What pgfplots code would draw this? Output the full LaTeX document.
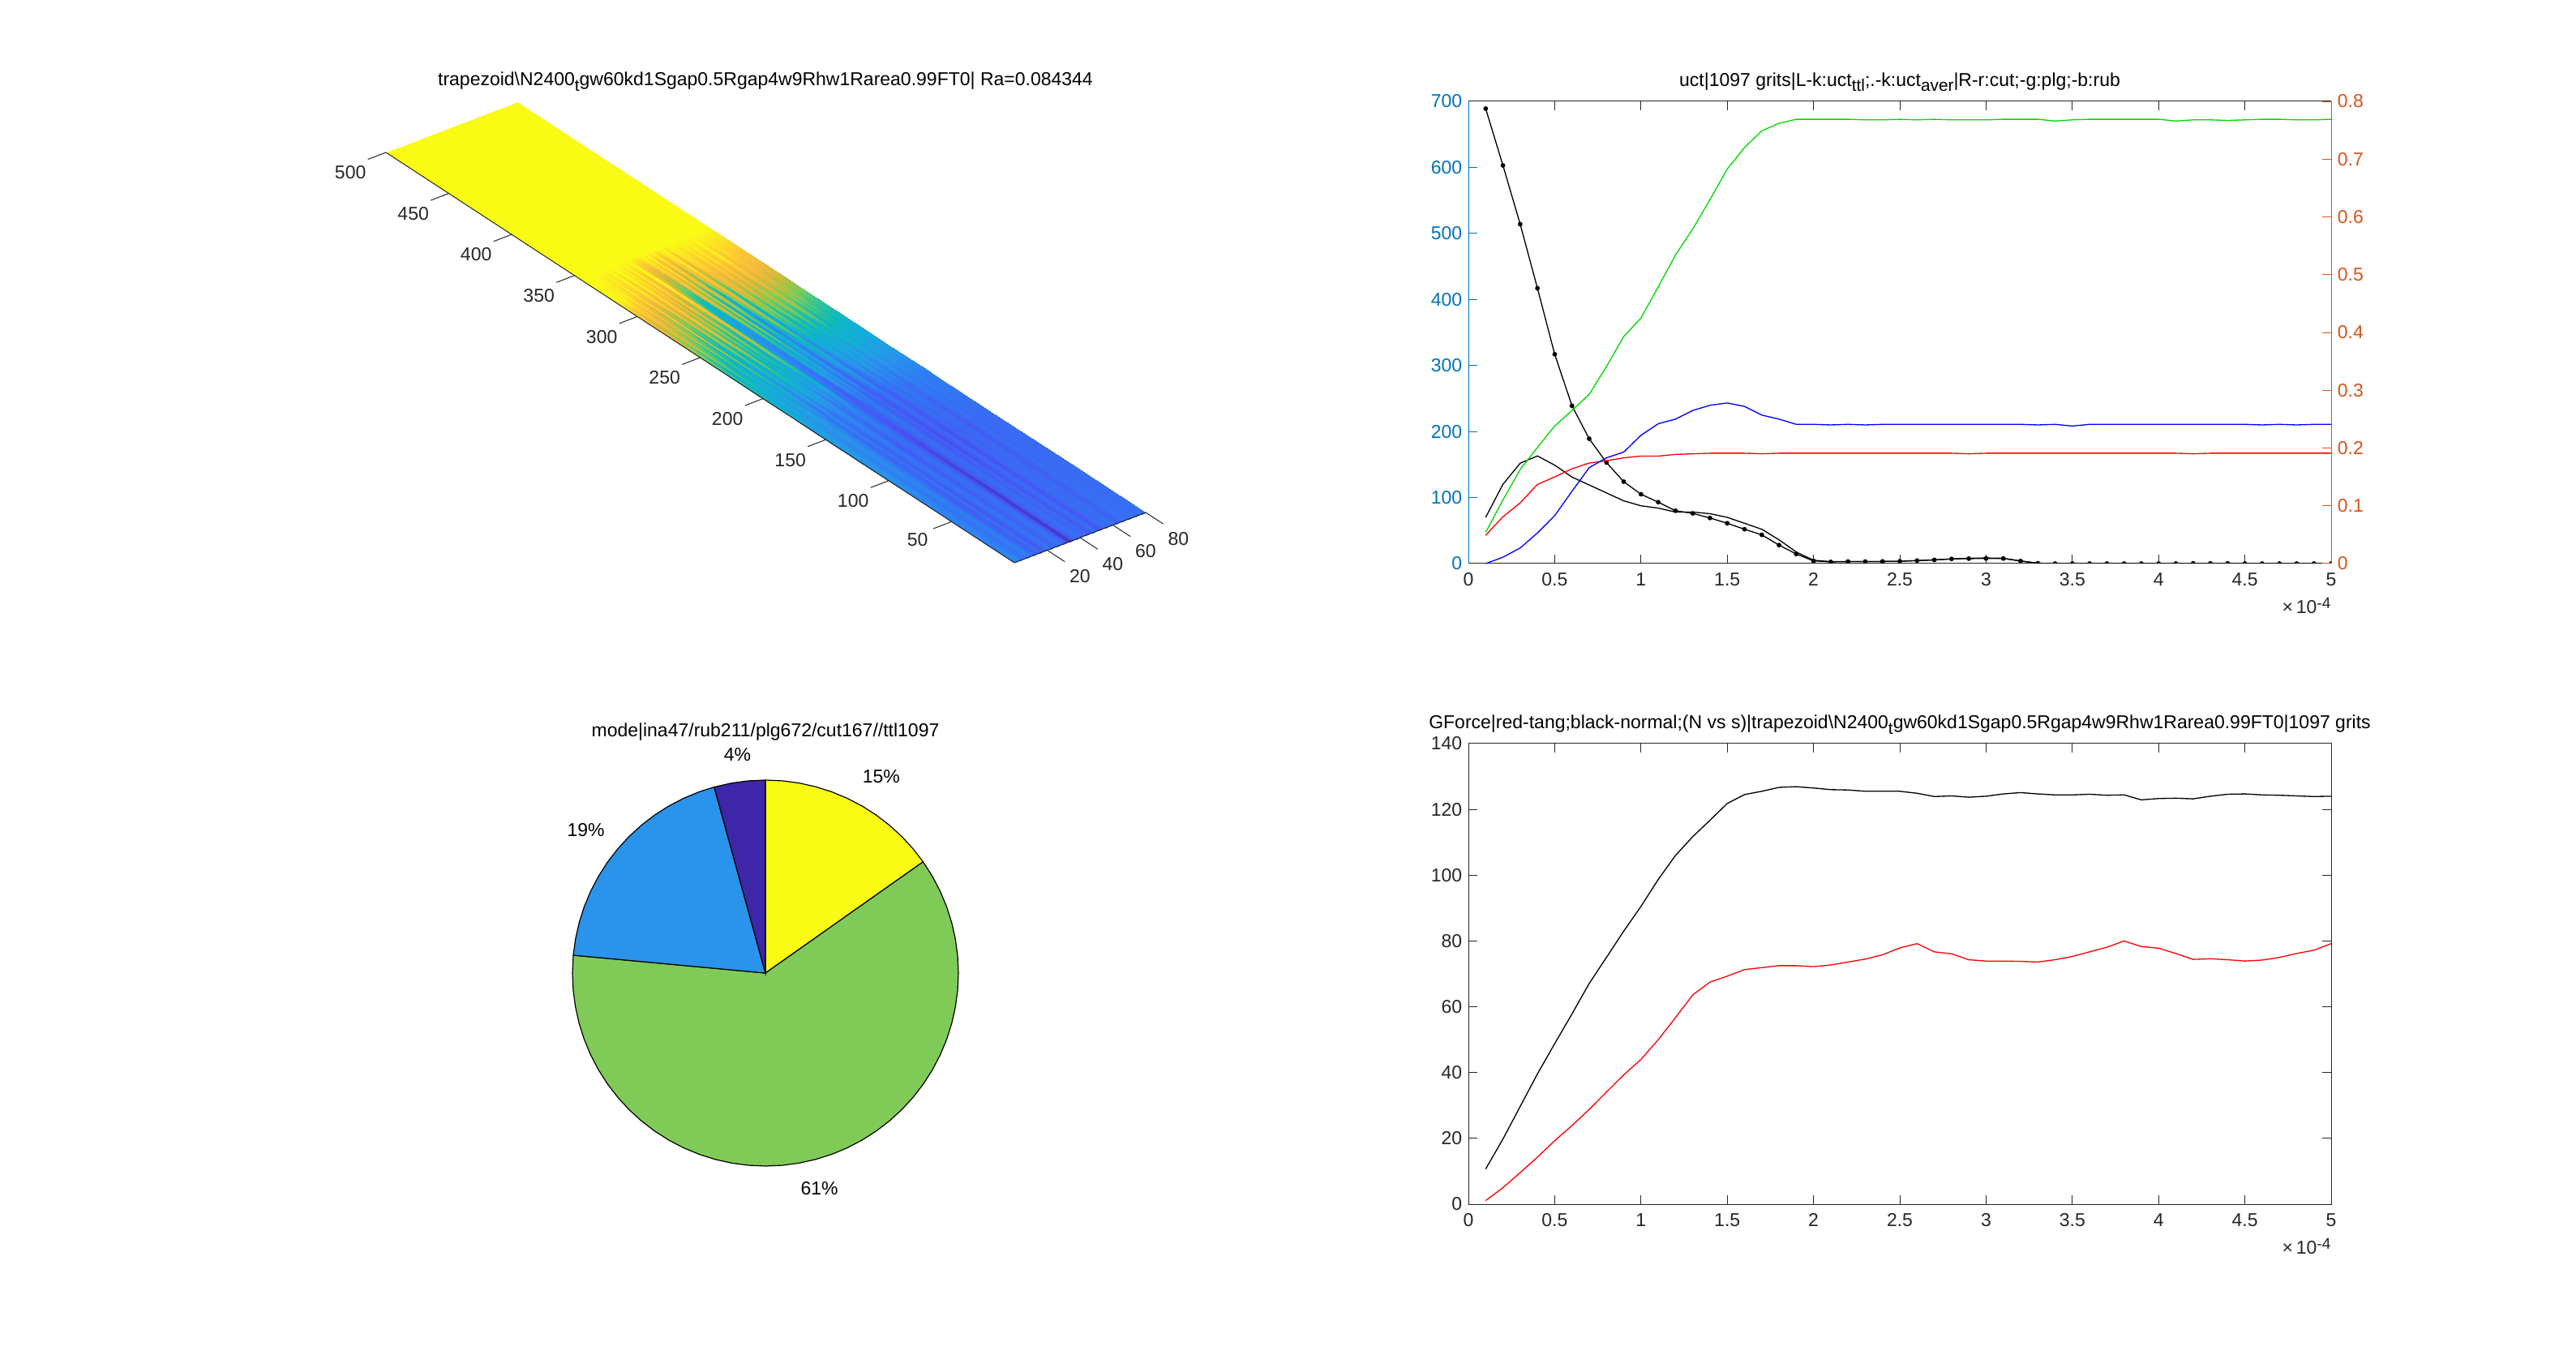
\documentclass[border=0pt]{standalone}
\usepackage{fontspec}
\setmainfont{Liberation Sans}
\usepackage{pgfplots}
\pgfplotsset{compat=1.18}
\definecolor{axisdark}{RGB}{38,38,38}
\definecolor{lblue}{rgb}{0,0.447,0.741}
\definecolor{rorange}{rgb}{0.85,0.325,0.098}
\definecolor{pdark}{RGB}{62,38,168}
\definecolor{pblue}{RGB}{42,147,235}
\definecolor{pgreen}{RGB}{128,203,88}
\definecolor{pyellow}{RGB}{249,251,21}
\newcommand{\sub}[1]{\raisebox{-0.55ex}{\fontsize{5.2}{5.2}\selectfont #1}}
\newcommand{\fs}{\fontsize{5.75}{7}\selectfont}
\pgfplotsset{
  every axis/.append style={
    font=\fs, scale only axis, line width=0.25pt,
    /pgf/number format/assume math mode=true,
    tick style={line width=0.25pt,color=axisdark},
    axis line style={color=axisdark},
    tick label style={text=axisdark},
    title style={font=\fs,at={(0.5,1)},anchor=south,yshift=-6.5pt},
    label style={font=\fs}
  },
  twod/.style={
    xmin=0,xmax=5,
    xtick={0,0.5,1,1.5,2,2.5,3,3.5,4,4.5,5},
    major tick length=2.7pt,
    tick align=inside,
    xticklabel style={yshift=0.5pt},
    yticklabel style={xshift=1.5pt},
    clip=false
  },
  stick/.style={axisdark,line width=0.25pt,no markers,forget plot}
}
\begin{document}
\begin{tikzpicture}[x=1pt,y=1pt]
\path[use as bounding box] (0,0) rectangle (794.25pt,417.5pt);

%% ---------- surface
\begin{axis}[
  at={(312.75pt,244pt)},anchor=origin,
  x={(0.50625pt,0.19375pt)},y={(-0.3875pt,0.253pt)},z={(0pt,1pt)},
  xmin=0,xmax=80,ymin=0,ymax=500,zmin=0,zmax=1,clip=false,
  axis x line*=bottom,axis y line*=left,axis z line=none,axis on top,
  xtick={20,40,60,80},ytick={50,100,150,200,250,300,350,400,450,500},ztick=\empty,
  tick align=outside,major tick length=6.2pt,tick style={draw=none},
  xticklabel style={xshift=1.3pt,yshift=2pt},
  yticklabel style={yshift=3.5pt},
  point meta min=0,point meta max=1,
  colormap={parula}{rgb255(0cm)=(62,38,168) rgb255(3cm)=(71,84,245) rgb255(6cm)=(48,122,244) rgb255(8cm)=(42,147,235) rgb255(10cm)=(18,174,217) rgb255(12cm)=(15,185,185) rgb255(14cm)=(60,197,140) rgb255(16cm)=(128,203,88) rgb255(18cm)=(190,190,60) rgb255(20cm)=(240,185,60) rgb255(22cm)=(254,200,50) rgb255(24cm)=(249,251,21)},
]
% lower part, y up to 172
\addplot3[surf,shader=interp,mesh/rows=4,mesh/cols=41,mesh/ordering=x varies,point meta=explicit] table[row sep=\\,x=x,y=y,z expr=0,meta=m]{
x y m\\
0 0 .27\\2 0 .30\\4 0 .26\\6 0 .22\\8 0 .24\\10 0 .27\\12 0 .20\\14 0 .16\\16 0 .22\\18 0 .13\\20 0 .22\\22 0 .24\\24 0 .17\\26 0 .20\\28 0 .23\\30 0 .21\\32 0 .12\\34 0 .03\\36 0 .17\\38 0 .20\\40 0 .22\\42 0 .17\\44 0 .21\\46 0 .14\\48 0 .19\\50 0 .22\\52 0 .13\\54 0 .18\\56 0 .22\\58 0 .20\\60 0 .22\\62 0 .19\\64 0 .17\\66 0 .21\\68 0 .23\\70 0 .20\\72 0 .22\\74 0 .21\\76 0 .20\\78 0 .22\\80 0 .21\\
0 60 .24\\2 60 .29\\4 60 .27\\6 60 .22\\8 60 .25\\10 60 .26\\12 60 .19\\14 60 .15\\16 60 .23\\18 60 .13\\20 60 .21\\22 60 .23\\24 60 .16\\26 60 .19\\28 60 .22\\30 60 .20\\32 60 .12\\34 60 .05\\36 60 .16\\38 60 .19\\40 60 .21\\42 60 .16\\44 60 .20\\46 60 .13\\48 60 .18\\50 60 .21\\52 60 .12\\54 60 .17\\56 60 .21\\58 60 .19\\60 60 .21\\62 60 .18\\64 60 .16\\66 60 .20\\68 60 .22\\70 60 .19\\72 60 .21\\74 60 .20\\76 60 .19\\78 60 .21\\80 60 .20\\
0 120 .30\\2 120 .36\\4 120 .31\\6 120 .27\\8 120 .32\\10 120 .29\\12 120 .24\\14 120 .17\\16 120 .25\\18 120 .16\\20 120 .23\\22 120 .24\\24 120 .14\\26 120 .18\\28 120 .22\\30 120 .19\\32 120 .13\\34 120 .09\\36 120 .15\\38 120 .20\\40 120 .21\\42 120 .13\\44 120 .17\\46 120 .10\\48 120 .15\\50 120 .20\\52 120 .11\\54 120 .15\\56 120 .19\\58 120 .17\\60 120 .20\\62 120 .18\\64 120 .14\\66 120 .19\\68 120 .21\\70 120 .18\\72 120 .20\\74 120 .20\\76 120 .19\\78 120 .20\\80 120 .20\\
0 172 .32\\2 172 .40\\4 172 .37\\6 172 .33\\8 172 .38\\10 172 .34\\12 172 .30\\14 172 .24\\16 172 .31\\18 172 .22\\20 172 .30\\22 172 .33\\24 172 .22\\26 172 .26\\28 172 .31\\30 172 .27\\32 172 .18\\34 172 .15\\36 172 .19\\38 172 .25\\40 172 .27\\42 172 .17\\44 172 .22\\46 172 .14\\48 172 .20\\50 172 .25\\52 172 .16\\54 172 .19\\56 172 .25\\58 172 .22\\60 172 .25\\62 172 .24\\64 172 .20\\66 172 .24\\68 172 .27\\70 172 .24\\72 172 .27\\74 172 .26\\76 172 .25\\78 172 .27\\80 172 .26\\
};
% middle part, fine columns
\addplot3[surf,shader=interp,mesh/rows=7,mesh/cols=81,mesh/ordering=x varies,point meta=explicit] table[row sep=\\,x=x,y=y,z expr=0,meta=m]{
x y m\\
0 170 .32\\1 170 .42\\2 170 .40\\3 170 .34\\4 170 .37\\5 170 .38\\6 170 .33\\7 170 .31\\8 170 .38\\9 170 .40\\10 170 .34\\11 170 .29\\12 170 .30\\13 170 .31\\14 170 .24\\15 170 .22\\16 170 .31\\17 170 .30\\18 170 .22\\19 170 .30\\20 170 .30\\21 170 .28\\22 170 .33\\23 170 .30\\24 170 .22\\25 170 .27\\26 170 .26\\27 170 .24\\28 170 .31\\29 170 .33\\30 170 .27\\31 170 .20\\32 170 .18\\33 170 .19\\34 170 .15\\35 170 .13\\36 170 .19\\37 170 .25\\38 170 .25\\39 170 .22\\40 170 .27\\41 170 .20\\42 170 .17\\43 170 .24\\44 170 .22\\45 170 .15\\46 170 .14\\47 170 .19\\48 170 .20\\49 170 .26\\50 170 .25\\51 170 .17\\52 170 .16\\53 170 .21\\54 170 .19\\55 170 .23\\56 170 .25\\57 170 .20\\58 170 .22\\59 170 .26\\60 170 .25\\61 170 .22\\62 170 .24\\63 170 .26\\64 170 .20\\65 170 .21\\66 170 .24\\67 170 .27\\68 170 .27\\69 170 .23\\70 170 .24\\71 170 .26\\72 170 .27\\73 170 .25\\74 170 .26\\75 170 .27\\76 170 .25\\77 170 .24\\78 170 .27\\79 170 .26\\80 170 .26\\
0 202 .38\\1 202 .52\\2 202 .47\\3 202 .36\\4 202 .52\\5 202 .40\\6 202 .46\\7 202 .34\\8 202 .50\\9 202 .38\\10 202 .42\\11 202 .33\\12 202 .52\\13 202 .36\\14 202 .34\\15 202 .30\\16 202 .48\\17 202 .40\\18 202 .34\\19 202 .46\\20 202 .52\\21 202 .38\\22 202 .44\\23 202 .42\\24 202 .33\\25 202 .44\\26 202 .40\\27 202 .34\\28 202 .39\\29 202 .48\\30 202 .46\\31 202 .28\\32 202 .27\\33 202 .25\\34 202 .22\\35 202 .20\\36 202 .30\\37 202 .40\\38 202 .36\\39 202 .30\\40 202 .44\\41 202 .28\\42 202 .27\\43 202 .33\\44 202 .33\\45 202 .19\\46 202 .22\\47 202 .30\\48 202 .31\\49 202 .38\\50 202 .36\\51 202 .25\\52 202 .26\\53 202 .30\\54 202 .32\\55 202 .37\\56 202 .36\\57 202 .30\\58 202 .34\\59 202 .39\\60 202 .37\\61 202 .33\\62 202 .36\\63 202 .40\\64 202 .33\\65 202 .32\\66 202 .36\\67 202 .40\\68 202 .38\\69 202 .35\\70 202 .34\\71 202 .38\\72 202 .36\\73 202 .39\\74 202 .36\\75 202 .35\\76 202 .35\\77 202 .37\\78 202 .37\\79 202 .36\\80 202 .36\\
0 232 .46\\1 232 .60\\2 232 .55\\3 232 .45\\4 232 .64\\5 232 .50\\6 232 .52\\7 232 .42\\8 232 .60\\9 232 .46\\10 232 .50\\11 232 .40\\12 232 .68\\13 232 .42\\14 232 .46\\15 232 .40\\16 232 .62\\17 232 .52\\18 232 .42\\19 232 .56\\20 232 .70\\21 232 .48\\22 232 .50\\23 232 .56\\24 232 .41\\25 232 .60\\26 232 .52\\27 232 .42\\28 232 .44\\29 232 .68\\30 232 .62\\31 232 .34\\32 232 .34\\33 232 .28\\34 232 .30\\35 232 .26\\36 232 .38\\37 232 .54\\38 232 .44\\39 232 .36\\40 232 .62\\41 232 .34\\42 232 .32\\43 232 .46\\44 232 .42\\45 232 .24\\46 232 .28\\47 232 .42\\48 232 .40\\49 232 .54\\50 232 .48\\51 232 .30\\52 232 .34\\53 232 .46\\54 232 .42\\55 232 .50\\56 232 .46\\57 232 .38\\58 232 .44\\59 232 .50\\60 232 .45\\61 232 .42\\62 232 .46\\63 232 .52\\64 232 .42\\65 232 .42\\66 232 .46\\67 232 .52\\68 232 .48\\69 232 .42\\70 232 .43\\71 232 .50\\72 232 .44\\73 232 .48\\74 232 .44\\75 232 .44\\76 232 .42\\77 232 .46\\78 232 .44\\79 232 .44\\80 232 .43\\
0 262 .62\\1 262 .78\\2 262 .70\\3 262 .60\\4 262 .82\\5 262 .66\\6 262 .68\\7 262 .56\\8 262 .80\\9 262 .62\\10 262 .62\\11 262 .54\\12 262 .86\\13 262 .52\\14 262 .60\\15 262 .52\\16 262 .78\\17 262 .68\\18 262 .54\\19 262 .74\\20 262 .86\\21 262 .60\\22 262 .62\\23 262 .74\\24 262 .50\\25 262 .78\\26 262 .66\\27 262 .54\\28 262 .56\\29 262 .84\\30 262 .82\\31 262 .42\\32 262 .42\\33 262 .34\\34 262 .38\\35 262 .32\\36 262 .52\\37 262 .72\\38 262 .58\\39 262 .48\\40 262 .80\\41 262 .40\\42 262 .38\\43 262 .64\\44 262 .56\\45 262 .28\\46 262 .34\\47 262 .60\\48 262 .52\\49 262 .74\\50 262 .64\\51 262 .38\\52 262 .44\\53 262 .66\\54 262 .60\\55 262 .68\\56 262 .62\\57 262 .50\\58 262 .60\\59 262 .70\\60 262 .58\\61 262 .56\\62 262 .64\\63 262 .72\\64 262 .58\\65 262 .58\\66 262 .62\\67 262 .72\\68 262 .66\\69 262 .56\\70 262 .60\\71 262 .66\\72 262 .58\\73 262 .66\\74 262 .60\\75 262 .62\\76 262 .56\\77 262 .62\\78 262 .58\\79 262 .60\\80 262 .57\\
0 292 .82\\1 292 .90\\2 292 .86\\3 292 .76\\4 292 .92\\5 292 .84\\6 292 .88\\7 292 .74\\8 292 .92\\9 292 .80\\10 292 .80\\11 292 .70\\12 292 .95\\13 292 .72\\14 292 .78\\15 292 .68\\16 292 .90\\17 292 .84\\18 292 .72\\19 292 .88\\20 292 .94\\21 292 .78\\22 292 .80\\23 292 .88\\24 292 .66\\25 292 .90\\26 292 .82\\27 292 .70\\28 292 .72\\29 292 .94\\30 292 .92\\31 292 .60\\32 292 .58\\33 292 .50\\34 292 .54\\35 292 .48\\36 292 .68\\37 292 .86\\38 292 .74\\39 292 .62\\40 292 .90\\41 292 .56\\42 292 .54\\43 292 .80\\44 292 .74\\45 292 .46\\46 292 .50\\47 292 .76\\48 292 .70\\49 292 .86\\50 292 .82\\51 292 .56\\52 292 .62\\53 292 .84\\54 292 .78\\55 292 .84\\56 292 .80\\57 292 .70\\58 292 .76\\59 292 .86\\60 292 .78\\61 292 .76\\62 292 .80\\63 292 .86\\64 292 .74\\65 292 .76\\66 292 .80\\67 292 .88\\68 292 .84\\69 292 .76\\70 292 .78\\71 292 .84\\72 292 .80\\73 292 .84\\74 292 .78\\75 292 .80\\76 292 .76\\77 292 .82\\78 292 .78\\79 292 .80\\80 292 .76\\
0 318 .97\\1 318 1\\2 318 1\\3 318 .98\\4 318 1\\5 318 .97\\6 318 1\\7 318 .95\\8 318 1\\9 318 .94\\10 318 .96\\11 318 .90\\12 318 1\\13 318 .92\\14 318 .94\\15 318 .90\\16 318 1\\17 318 .94\\18 318 .88\\19 318 .96\\20 318 1\\21 318 .92\\22 318 .94\\23 318 .96\\24 318 .84\\25 318 .97\\26 318 .94\\27 318 .86\\28 318 .88\\29 318 1\\30 318 1\\31 318 .82\\32 318 .78\\33 318 .72\\34 318 .76\\35 318 .70\\36 318 .86\\37 318 .94\\38 318 .88\\39 318 .82\\40 318 .98\\41 318 .78\\42 318 .76\\43 318 .92\\44 318 .90\\45 318 .72\\46 318 .72\\47 318 .90\\48 318 .88\\49 318 .96\\50 318 .94\\51 318 .76\\52 318 .82\\53 318 .94\\54 318 .92\\55 318 .94\\56 318 .92\\57 318 .88\\58 318 .90\\59 318 .96\\60 318 .92\\61 318 .90\\62 318 .94\\63 318 .96\\64 318 .90\\65 318 .90\\66 318 .94\\67 318 .98\\68 318 .94\\69 318 .90\\70 318 .90\\71 318 .94\\72 318 .92\\73 318 .94\\74 318 .90\\75 318 .92\\76 318 .90\\77 318 .92\\78 318 .90\\79 318 .92\\80 318 .90\\
0 348 1\\1 348 1\\2 348 1\\3 348 1\\4 348 1\\5 348 1\\6 348 1\\7 348 1\\8 348 1\\9 348 1\\10 348 1\\11 348 1\\12 348 1\\13 348 1\\14 348 1\\15 348 1\\16 348 1\\17 348 1\\18 348 1\\19 348 1\\20 348 1\\21 348 1\\22 348 1\\23 348 1\\24 348 1\\25 348 1\\26 348 1\\27 348 1\\28 348 1\\29 348 1\\30 348 1\\31 348 1\\32 348 1\\33 348 1\\34 348 1\\35 348 1\\36 348 1\\37 348 1\\38 348 1\\39 348 1\\40 348 1\\41 348 1\\42 348 1\\43 348 1\\44 348 1\\45 348 1\\46 348 1\\47 348 1\\48 348 1\\49 348 1\\50 348 1\\51 348 1\\52 348 1\\53 348 1\\54 348 1\\55 348 1\\56 348 1\\57 348 1\\58 348 1\\59 348 1\\60 348 1\\61 348 1\\62 348 1\\63 348 1\\64 348 1\\65 348 1\\66 348 1\\67 348 1\\68 348 1\\69 348 1\\70 348 1\\71 348 1\\72 348 1\\73 348 1\\74 348 1\\75 348 1\\76 348 1\\77 348 1\\78 348 1\\79 348 1\\80 348 1\\
};
% upper part, plain yellow
\addplot3[surf,shader=interp,mesh/rows=2,mesh/cols=2,mesh/ordering=x varies,point meta=explicit] table[row sep=\\,x=x,y=y,z expr=0,meta=m]{
x y m\\
0 346 1\\80 346 1\\
0 500 1\\80 500 1\\
};
% tick strokes
\addplot3[stick] coordinates {(20,0,0)(20,-14,0)};
\addplot3[stick] coordinates {(40,0,0)(40,-14,0)};
\addplot3[stick] coordinates {(60,0,0)(60,-14,0)};
\addplot3[stick] coordinates {(80,0,0)(80,-14,0)};
\addplot3[stick] coordinates {(0,50,0)(-11,50,0)};
\addplot3[stick] coordinates {(0,100,0)(-11,100,0)};
\addplot3[stick] coordinates {(0,150,0)(-11,150,0)};
\addplot3[stick] coordinates {(0,200,0)(-11,200,0)};
\addplot3[stick] coordinates {(0,250,0)(-11,250,0)};
\addplot3[stick] coordinates {(0,300,0)(-11,300,0)};
\addplot3[stick] coordinates {(0,350,0)(-11,350,0)};
\addplot3[stick] coordinates {(0,400,0)(-11,400,0)};
\addplot3[stick] coordinates {(0,450,0)(-11,450,0)};
\addplot3[stick] coordinates {(0,500,0)(-11,500,0)};
\end{axis}
\node[font=\fs,anchor=base] at (236pt,391pt) {trapezoid\textbackslash N2400\sub{t}gw60kd1Sgap0.5Rgap4w9Rhw1Rarea0.99FT0| Ra=0.084344};

%% ---------- top right, left axis
\begin{axis}[twod,
  at={(452.75pt,243.75pt)},anchor=south west,width=266pt,height=142.5pt,
  ymin=0,ymax=700,ytick={0,100,200,300,400,500,600,700},
  axis x line*=box,axis y line*=left,
  y axis line style={color=lblue},
  ytick style={color=lblue},
  yticklabel style={text=lblue},
  clip=true,clip mode=individual,clip marker paths=true,
  title={uct|1097 grits|L-k:uct\sub{ttl};.-k:uct\sub{aver}|R-r:cut;-g:plg;-b:rub},
]
\addplot[black,line width=0.33pt] coordinates {
(0.1,70)(0.2,120)(0.3,152)(0.4,163)(0.5,149)(0.6,131)(0.7,119)(0.8,107)(0.9,95)(1.0,87.5)
(1.1,84)(1.2,78)(1.3,78)(1.4,75.5)(1.5,70)(1.6,61)(1.7,52)(1.8,36)(1.9,17.5)(2.0,5)
(2.1,3)(2.2,3)(2.3,3)(2.4,3.2)(2.5,3.5)(2.6,4.5)(2.7,5.5)(2.8,7)(2.9,8)(3.0,8.5)
(3.1,8)(3.2,4)(3.3,0.5)(3.4,0)(3.5,0)(3.6,0)(3.7,0)(3.8,0)(3.9,0)(4.0,0)
(4.1,0)(4.2,0.3)(4.3,0.3)(4.4,0.3)(4.5,0)(4.6,0)(4.7,0)(4.8,0)(4.9,0)(5.0,0)};
\addplot[black,line width=0.33pt,mark=*,mark size=0.55pt,mark options={solid}] coordinates {
(0.1,689)(0.2,603)(0.3,514)(0.4,417)(0.5,317)(0.6,239)(0.7,189)(0.8,153)(0.9,124)(1.0,105)
(1.1,93)(1.2,80)(1.3,76)(1.4,69)(1.5,61)(1.6,52)(1.7,43.5)(1.8,28)(1.9,14.5)(2.0,4)
(2.1,2.5)(2.2,3)(2.3,3)(2.4,3.2)(2.5,3.5)(2.6,4.5)(2.7,5.5)(2.8,7)(2.9,7.5)(3.0,7.7)
(3.1,7.7)(3.2,3.8)(3.3,0.5)(3.4,0)(3.5,0)(3.6,0)(3.7,0)(3.8,0)(3.9,0)(4.0,0)
(4.1,0)(4.2,0.3)(4.3,0.3)(4.4,0.3)(4.5,0)(4.6,0)(4.7,0)(4.8,0)(4.9,0)(5.0,0)};
\node[anchor=north east,inner sep=0pt,text=axisdark] at (rel axis cs:1,0) [yshift=-10.5pt] {×\,10\raisebox{0.5ex}{\fontsize{4.8}{5}\selectfont -4}};
\end{axis}
%% ---------- top right, right axis
\begin{axis}[twod,
  at={(452.75pt,243.75pt)},anchor=south west,width=266pt,height=142.5pt,
  ymin=0,ymax=0.8,ytick={0,0.1,0.2,0.3,0.4,0.5,0.6,0.7,0.8},
  axis x line=none,axis y line*=right,
  y axis line style={color=rorange},
  ytick style={color=rorange},
  yticklabel style={text=rorange,xshift=-3pt},
]
\addplot[red,line width=0.33pt] coordinates {
(0.1,.049)(0.2,.081)(0.3,.105)(0.4,.137)(0.5,.150)(0.6,.164)(0.7,.174)(0.8,.178)(0.9,.183)(1.0,.186)
(1.1,.186)(1.2,.189)(1.3,.190)(1.4,.191)(1.5,.191)(1.6,.191)(1.7,.190)(1.8,.191)(1.9,.191)(2.0,.191)
(2.1,.191)(2.2,.191)(2.3,.191)(2.4,.191)(2.5,.191)(2.6,.191)(2.7,.191)(2.8,.191)(2.9,.190)(3.0,.191)
(3.1,.191)(3.2,.191)(3.3,.191)(3.4,.191)(3.5,.191)(3.6,.191)(3.7,.191)(3.8,.191)(3.9,.191)(4.0,.191)
(4.1,.191)(4.2,.190)(4.3,.191)(4.4,.191)(4.5,.191)(4.6,.191)(4.7,.191)(4.8,.191)(4.9,.191)(5.0,.191)};
\addplot[green!85!black,line width=0.33pt] coordinates {
(0.1,.054)(0.2,.110)(0.3,.163)(0.4,.201)(0.5,.238)(0.6,.265)(0.7,.293)(0.8,.341)(0.9,.393)(1.0,.425)
(1.1,.479)(1.2,.534)(1.3,.579)(1.4,.630)(1.5,.683)(1.6,.720)(1.7,.749)(1.8,.762)(1.9,.769)(2.0,.769)
(2.1,.769)(2.2,.769)(2.3,.768)(2.4,.768)(2.5,.769)(2.6,.768)(2.7,.769)(2.8,.768)(2.9,.768)(3.0,.768)
(3.1,.769)(3.2,.769)(3.3,.769)(3.4,.766)(3.5,.768)(3.6,.769)(3.7,.769)(3.8,.769)(3.9,.769)(4.0,.769)
(4.1,.766)(4.2,.768)(4.3,.768)(4.4,.767)(4.5,.768)(4.6,.769)(4.7,.769)(4.8,.768)(4.9,.768)(5.0,.769)};
\addplot[blue,line width=0.33pt] coordinates {
(0.1,0)(0.2,.011)(0.3,.027)(0.4,.053)(0.5,.083)(0.6,.125)(0.7,.166)(0.8,.183)(0.9,.193)(1.0,.222)
(1.1,.242)(1.2,.250)(1.3,.265)(1.4,.274)(1.5,.278)(1.6,.272)(1.7,.257)(1.8,.250)(1.9,.241)(2.0,.241)
(2.1,.240)(2.2,.241)(2.3,.240)(2.4,.241)(2.5,.241)(2.6,.241)(2.7,.241)(2.8,.241)(2.9,.241)(3.0,.241)
(3.1,.241)(3.2,.241)(3.3,.240)(3.4,.241)(3.5,.238)(3.6,.241)(3.7,.241)(3.8,.241)(3.9,.241)(4.0,.241)
(4.1,.241)(4.2,.241)(4.3,.241)(4.4,.241)(4.5,.241)(4.6,.240)(4.7,.241)(4.8,.240)(4.9,.241)(5.0,.241)};
\end{axis}

%% ---------- pie
\begin{axis}[
  at={(176.5pt,58pt)},anchor=south west,width=119pt,height=119pt,
  xmin=-1,xmax=1,ymin=-1,ymax=1,hide axis,clip=false,
  title={mode|ina47/rub211/plg672/cut167//ttl1097},
  title style={at={(0.5,1)},anchor=south,yshift=9.3pt},
]
\addplot[data cs=polar,fill=pyellow,draw=black,line width=0.3pt] coordinates {
(0,0)(35.2,1)(40,1)(45,1)(50,1)(55,1)(60,1)(65,1)(70,1)(75,1)(80,1)(85,1)(90,1)} -- cycle;
\addplot[data cs=polar,fill=pgreen,draw=black,line width=0.3pt] coordinates {
(0,0)(174.7,1)(180,1)(185,1)(190,1)(195,1)(200,1)(205,1)(210,1)(215,1)(220,1)(225,1)(230,1)(235,1)(240,1)(245,1)(250,1)(255,1)(260,1)(265,1)(270,1)(275,1)(280,1)(285,1)(290,1)(295,1)(300,1)(305,1)(310,1)(315,1)(320,1)(325,1)(330,1)(335,1)(340,1)(345,1)(350,1)(355,1)(360,1)(365,1)(370,1)(375,1)(380,1)(385,1)(390,1)(395.2,1)} -- cycle;
\addplot[data cs=polar,fill=pblue,draw=black,line width=0.3pt] coordinates {
(0,0)(105.4,1)(110,1)(115,1)(120,1)(125,1)(130,1)(135,1)(140,1)(145,1)(150,1)(155,1)(160,1)(165,1)(170,1)(174.7,1)} -- cycle;
\addplot[data cs=polar,fill=pdark,draw=black,line width=0.3pt] coordinates {
(0,0)(90,1)(95,1)(100,1)(105.4,1)} -- cycle;
\node at (axis cs:0.60,1.02) {15\%};
\node at (axis cs:-0.93,0.74) {19\%};
\node at (axis cs:-0.145,1.13) {4\%};
\node at (axis cs:0.28,-1.115) {61\%};
\end{axis}

%% ---------- bottom right
\begin{axis}[twod,
  at={(452.75pt,46.25pt)},anchor=south west,width=266pt,height=142pt,
  ymin=0,ymax=140,ytick={0,20,40,60,80,100,120,140},
  title={GForce|red-tang;black-normal;(N vs s)|trapezoid\textbackslash N2400\sub{t}gw60kd1Sgap0.5Rgap4w9Rhw1Rarea0.99FT0|1097 grits},
]
\addplot[black,line width=0.33pt] coordinates {
(0.1,10.7)(0.2,19.8)(0.3,29.7)(0.4,39.6)(0.5,48.8)(0.6,57.8)(0.7,67.1)(0.8,75)(0.9,83)(1.0,90.5)
(1.1,98.7)(1.2,106)(1.3,111.7)(1.4,116.7)(1.5,121.8)(1.6,124.5)(1.7,125.5)(1.8,126.7)(1.9,126.9)(2.0,126.5)
(2.1,126)(2.2,125.9)(2.3,125.5)(2.4,125.5)(2.5,125.5)(2.6,124.9)(2.7,123.9)(2.8,124.1)(2.9,123.7)(3.0,124)
(3.1,124.7)(3.2,125.1)(3.3,124.7)(3.4,124.4)(3.5,124.4)(3.6,124.6)(3.7,124.3)(3.8,124.4)(3.9,122.9)(4.0,123.3)
(4.1,123.4)(4.2,123.2)(4.3,124)(4.4,124.6)(4.5,124.7)(4.6,124.4)(4.7,124.3)(4.8,124.1)(4.9,123.9)(5.0,124)};
\addplot[red,line width=0.33pt] coordinates {
(0.1,1.1)(0.2,5)(0.3,9.6)(0.4,14.3)(0.5,19.3)(0.6,23.9)(0.7,28.8)(0.8,34.1)(0.9,39.3)(1.0,44)
(1.1,50)(1.2,56.7)(1.3,63.6)(1.4,67.5)(1.5,69.3)(1.6,71.3)(1.7,71.9)(1.8,72.5)(1.9,72.5)(2.0,72.2)
(2.1,72.7)(2.2,73.6)(2.3,74.5)(2.4,75.8)(2.5,77.9)(2.6,79.2)(2.7,76.7)(2.8,76.1)(2.9,74.3)(3.0,73.9)
(3.1,73.9)(3.2,73.8)(3.3,73.6)(3.4,74.3)(3.5,75.3)(3.6,76.7)(3.7,78.1)(3.8,80)(3.9,78.3)(4.0,77.8)
(4.1,76.2)(4.2,74.4)(4.3,74.6)(4.4,74.3)(4.5,73.9)(4.6,74.2)(4.7,75)(4.8,76.2)(4.9,77.2)(5.0,79.2)};
\node[anchor=north east,inner sep=0pt,text=axisdark] at (rel axis cs:1,0) [yshift=-10.5pt] {×\,10\raisebox{0.5ex}{\fontsize{4.8}{5}\selectfont -4}};
\end{axis}
\end{tikzpicture}
\end{document}
